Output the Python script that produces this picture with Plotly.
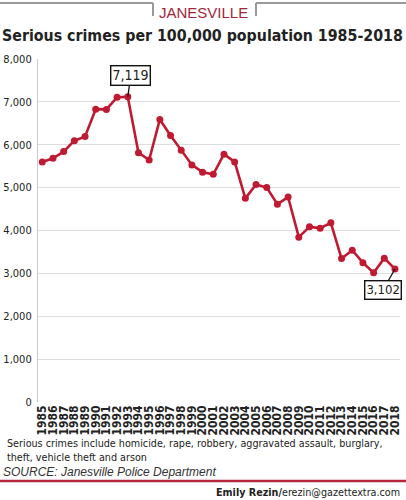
import plotly.graph_objects as go

years = list(range(1985, 2019))
crimes = [5600, 5685, 5840, 6095, 6190, 6830, 6825, 7105, 7119, 5815, 5645,
          6590, 6215, 5870, 5530, 5360, 5310, 5780, 5600, 4750, 5075, 5000,
          4615, 4780, 3845, 4085, 4055, 4180, 3345, 3540, 3250, 3015, 3355, 3102]
y_ticks = [0, 1000, 2000, 3000, 4000, 5000, 6000, 7000, 8000]
y_tick_text = ["0", "1,000", "2,000", "3,000", "4,000", "5,000", "6,000", "7,000", "8,000"]

title_text = "Serious crimes per 100,000 population 1985-2018"
kicker = "JANESVILLE"
note_1 = "Serious crimes include homicide, rape, robbery, aggravated assault, burglary,"
note_2 = "theft, vehicle theft and arson"
source = "SOURCE: Janesville Police Department"
credit = "<b>Emily Rezin/</b>erezin@gazettextra.com"

COND = "DejaVu Sans Condensed, DejaVu Sans, sans-serif"
ARIAL = "Liberation Sans, Arial, sans-serif"
RED = "#c01a33"

fig = go.Figure()
fig.add_trace(go.Scatter(
    x=years, y=crimes, mode="lines+markers",
    line=dict(color=RED, width=2.6),
    marker=dict(color=RED, size=7),
    hoverinfo="skip", showlegend=False,
))

fig.update_layout(
    width=406, height=500,
    margin=dict(l=38, r=6, t=59, b=98),
    paper_bgcolor="white", plot_bgcolor="white",
    xaxis=dict(
        range=[1984.6, 2018.47], tickmode="array", tickvals=years,
        ticktext=[str(y) for y in years], tickangle=-90,
        tickfont=dict(family=COND, size=12, color="#222", weight="bold"),
        showgrid=False, zeroline=False, showline=False, ticks="",
        automargin=False,
    ),
    yaxis=dict(
        range=[0, 8000], tickmode="array", tickvals=y_ticks, ticktext=y_tick_text,
        tickfont=dict(family=COND, size=11, color="#222"),
        showgrid=True, gridcolor="#dddddd", gridwidth=1.2,
        zeroline=False, showline=True, linecolor="#cccccc", linewidth=1.2,
        ticks="", ticklabelstandoff=3, automargin=False,
    ),
)

# peak and last callouts
fig.add_annotation(x=1993, y=7119, text="7,119", showarrow=True, ax=3, ay=-21,
                   arrowhead=0, arrowwidth=1.3, arrowcolor="#111",
                   font=dict(family=COND, size=14, color="#222"),
                   bgcolor="white", bordercolor="#111", borderwidth=1.4, borderpad=1)
fig.add_annotation(x=2018, y=3102, text="3,102", showarrow=True, ax=-12, ay=21,
                   arrowhead=0, arrowwidth=1.3, arrowcolor="#111",
                   font=dict(family=COND, size=13, color="#222"),
                   bgcolor="white", bordercolor="#111", borderwidth=1.4, borderpad=1)

PL, PR, PT, PB = 38, 400, 59, 402
def px(xp):
    return (xp - PL) / (PR - PL)
def py(yp):
    return (PB - yp) / (PB - PT)

def pa(x, y, text, size, family=COND, color="#222", xanchor="center", **kw):
    fig.add_annotation(xref="paper", yref="paper", x=px(x), y=py(y), text=text,
                       showarrow=False, xanchor=xanchor, yanchor="middle",
                       font=dict(family=family, size=size, color=color, **kw))

pa(203, 13, kicker, 15, family=ARIAL, color="#a3263a")
pa(202, 36, "<b>" + title_text + "</b>", 15.8)
pa(5, 443, note_1, 10.7, xanchor="left")
pa(5, 457, note_2, 10.7, xanchor="left")
pa(1, 472, source, 12, family=ARIAL, color="#333", xanchor="left", style="italic")
pa(402, 492, credit, 10.7, xanchor="right")

# header rule with break around kicker, footer red rule
line_gray = dict(color="#999999", width=2)
def seg(x0, y0, x1, y1, line):
    fig.add_shape(type="line", xref="paper", yref="paper",
                  x0=px(x0), x1=px(x1), y0=py(y0), y1=py(y1), line=line)
seg(0, 3, 153, 3, line_gray)
seg(153, 3, 153, 16, line_gray)
seg(256, 3, 406, 3, line_gray)
seg(256, 3, 256, 16, line_gray)
seg(0, 481, 406, 481, dict(color="#b5283c", width=2.5))

fig.write_html("out.html")
